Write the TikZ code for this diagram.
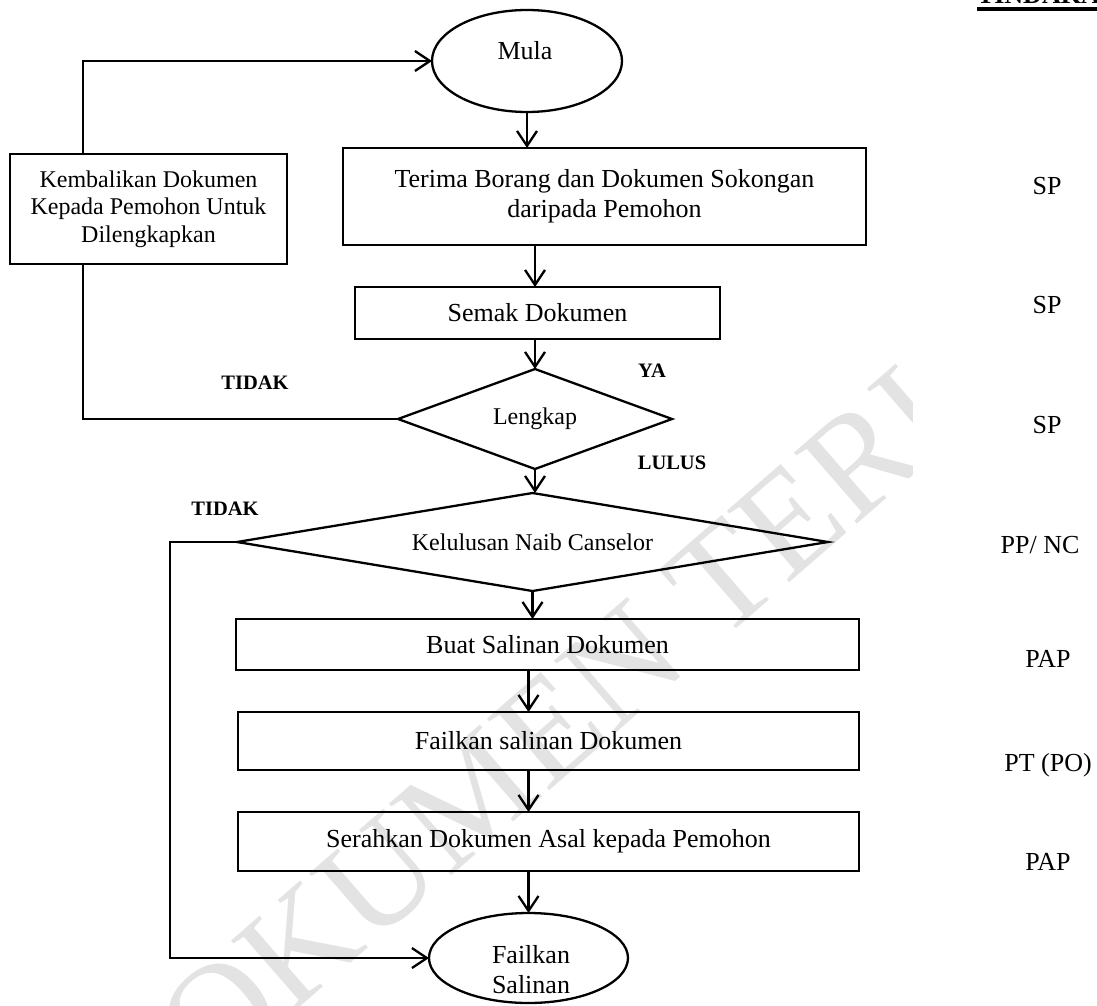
\documentclass[tikz,border=0pt]{standalone}
\usepackage{fontspec}
\setmainfont{Liberation Serif}
\usetikzlibrary{arrows.meta,shapes.geometric}
\begin{document}
\begin{tikzpicture}[x=1pt,y=-1pt,
  every node/.style={inner sep=0pt, outer sep=0pt},
  ln/.style={line width=2.3pt},
  arr/.style={ln,-{Straight Barb[length=15pt,width=20pt]}},
  box/.style={draw, ln, rectangle, align=center},
  dia/.style={draw, ln, diamond},
  oval/.style={draw, ln, ellipse},
  big/.style={font=\fontsize{26}{30}\selectfont},
  mid/.style={font=\fontsize{24}{27.5}\selectfont},
  lab/.style={font=\fontsize{20.5}{24}\selectfont\bfseries},
  hdr/.style={font=\fontsize{26}{30}\selectfont\bfseries},
  wmtext/.style={font=\fontsize{145}{145}\selectfont, text=black!11}
]
\useasboundingbox (0,0) rectangle (1097,1006);

% watermark
\begin{scope}
\clip (0,0) rectangle (912,1006);
\node[wmtext, rotate=41] (wmark) at (692,605) {DOKUMEN TERKAWAL};
\end{scope}

% header
\node[hdr, anchor=base west] (tind) at (977,4) {TINDAKAN};
\draw[line width=3.4pt] ([yshift=-5pt]tind.base west) -- ([yshift=-5pt]tind.base east);

% shapes
\node[oval, minimum width=190pt, minimum height=102pt] (mula) at (527,61) {};
\node[big] (mulat) at (525,51) {Mula};
\node[box, big, minimum width=523pt, minimum height=97pt] (terima) at (604.5,196.5) {Terima Borang dan Dokumen Sokongan\\daripada Pemohon};
\node[box, big, minimum width=365pt, minimum height=52pt] (semak) at (537.5,313) {Semak Dokumen};
\node[dia, mid, aspect=2.74, minimum width=274pt, minimum height=100pt] (lengkap) at (535,419) {Lengkap};
\node[dia, mid, aspect=6.03, minimum width=591pt, minimum height=98pt] (kelul) at (532.5,542) {Kelulusan Naib Canselor};
\node[box, big, minimum width=623pt, minimum height=51pt] (buat) at (547.5,644.5) {Buat Salinan Dokumen};
\node[box, big, minimum width=621pt, minimum height=58pt] (failkan) at (548.5,741) {Failkan salinan Dokumen};
\node[box, big, minimum width=621pt, minimum height=59pt] (serah) at (548.5,841.5) {Serahkan Dokumen Asal kepada Pemohon};
\node[oval, minimum width=199pt, minimum height=90pt] (salinan) at (528.5,958) {};
\node[big, align=center] (salinant) at (531,970) {Failkan\\Salinan};
\node[box, mid, minimum width=277pt, minimum height=110pt] (kemb) at (148.5,209) {Kembalikan Dokumen\\Kepada Pemohon Untuk\\Dilengkapkan};

% labels
\node[lab] (tidak1) at (255,383) {TIDAK};
\node[lab] (ya) at (652,371) {YA};
\node[lab] (lulus) at (672,463) {LULUS};
\node[lab] (tidak2) at (225,509) {TIDAK};

% right column
\node[big] (r1) at (1047,186) {SP};
\node[big] (r2) at (1047,305) {SP};
\node[big] (r3) at (1047,425) {SP};
\node[big] (r4) at (1040,545) {PP/ NC};
\node[big] (r5) at (1048,659) {PAP};
\node[big] (r6) at (1048,765) {PT (PO)};
\node[big] (r7) at (1048,862) {PAP};

% main flow
\draw[arr] (mula.south) -- (mula.south |- terima.north);
\draw[arr] (terima.south -| lengkap.north) -- (semak.north -| lengkap.north);
\draw[arr] (semak.south -| lengkap.north) -- (lengkap.north);
\draw[arr] (lengkap.south) -- (lengkap.south |- kelul.north);
\draw[arr] (kelul.south) -- (kelul.south |- buat.north);
\draw[arr] (buat.south -| salinan.north) -- (failkan.north -| salinan.north);
\draw[arr] (failkan.south -| salinan.north) -- (serah.north -| salinan.north);
\draw[arr] (serah.south -| salinan.north) -- (salinan.north);

% loops
\coordinate (kb) at (83,264);
\coordinate (kt) at (83,154);
\draw[ln] (lengkap.west) -| (kb);
\draw[arr] (kt) |- (mula.west);
\coordinate (lc) at (170,958);
\draw[arr] (kelul.west) -| (lc) -- (salinan.west);
\end{tikzpicture}
\end{document}
